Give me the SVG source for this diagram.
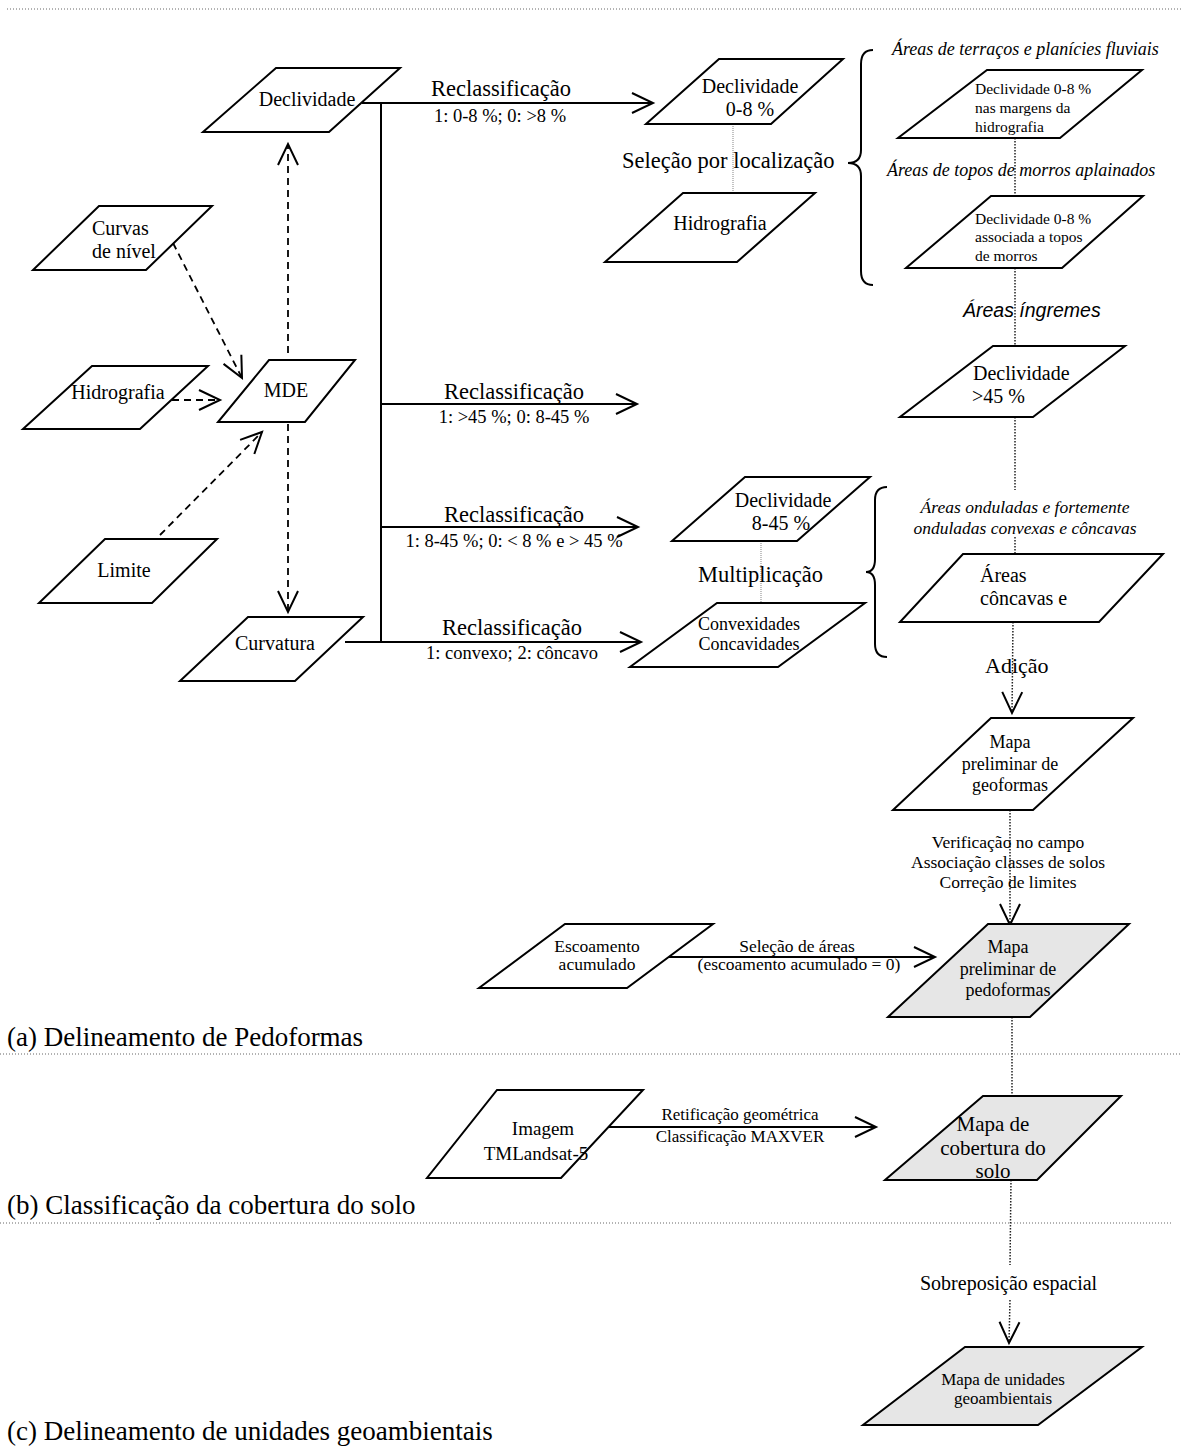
<svg xmlns="http://www.w3.org/2000/svg" width="1182" height="1454" viewBox="0 0 1182 1454">
<style>
.t{font-family:"Liberation Serif","Times New Roman",serif;fill:#000}
.it{font-style:italic}
.s{font-family:"Liberation Sans",Arial,sans-serif;font-style:italic;fill:#000}
.m{text-anchor:middle}
.node{fill:#fff;stroke:#000;stroke-width:2}
.gray{fill:#e6e6e6}
.sol{fill:none;stroke:#000;stroke-width:2}
.dash{fill:none;stroke:#000;stroke-width:1.8;stroke-dasharray:7 5}
.dot{fill:none;stroke:#222;stroke-width:1.5;stroke-dasharray:1.5 1.5}
.ldot{fill:none;stroke:#999;stroke-width:1.2;stroke-dasharray:1 1}
.sep{fill:none;stroke:#666;stroke-width:1;stroke-dasharray:1 2}
</style>
<defs>
<marker id="ah" markerUnits="userSpaceOnUse" markerWidth="26" markerHeight="26" viewBox="0 0 26 26" refX="23" refY="13" orient="auto">
<path d="M2,3 L23,13 L2,23" fill="none" stroke="#000" stroke-width="2" stroke-dasharray="none"/>
</marker>
</defs>

<g id="separators">
<line class="sep" x1="7" y1="9" x2="1182" y2="9"/>
<line class="sep" x1="0" y1="1054" x2="1182" y2="1054"/>
<line class="sep" x1="0" y1="1223" x2="1172" y2="1223"/>
</g>

<g id="connectors">
<line class="dash" x1="173" y1="243" x2="242" y2="378" marker-end="url(#ah)"/>
<line class="dash" x1="172" y1="400" x2="220" y2="400" marker-end="url(#ah)"/>
<line class="dash" x1="160" y1="535" x2="262" y2="432" marker-end="url(#ah)"/>
<line class="dash" x1="288" y1="353" x2="288" y2="144" marker-end="url(#ah)"/>
<line class="dash" x1="288" y1="424" x2="288" y2="612" marker-end="url(#ah)"/>
<line class="sol" x1="362" y1="103" x2="653" y2="103" marker-end="url(#ah)"/>
<line class="sol" x1="381" y1="103" x2="381" y2="642"/>
<line class="sol" x1="381" y1="404" x2="637" y2="404" marker-end="url(#ah)"/>
<line class="sol" x1="381" y1="527" x2="638" y2="527" marker-end="url(#ah)"/>
<line class="sol" x1="345" y1="642" x2="641" y2="642" marker-end="url(#ah)"/>
<line class="ldot" x1="733" y1="124" x2="733" y2="193"/>
<line class="ldot" x1="761" y1="541" x2="761" y2="603"/>
<path class="sol" d="M873,50 Q861,50 861,64 L861,150 Q861,163 848,163 Q861,163 861,176 L861,271 Q861,285 873,285"/>
<path class="sol" d="M887,487 Q875,487 875,500 L875,559 Q875,572 866,572 Q875,572 875,585 L875,644 Q875,657 887,657"/>
<line class="dot" x1="1015" y1="138" x2="1015" y2="196"/>
<line class="dot" x1="1015" y1="268" x2="1015" y2="346"/>
<line class="dot" x1="1015" y1="417" x2="1015" y2="490"/>
<line class="dot" x1="1015" y1="537" x2="1015" y2="554"/>
<line class="dot" x1="1013" y1="622" x2="1012" y2="713" marker-end="url(#ah)"/>
<line class="dot" x1="1010" y1="810" x2="1010" y2="925" marker-end="url(#ah)"/>
<line class="sol" x1="668" y1="957" x2="935" y2="957" marker-end="url(#ah)"/>
<line class="dot" x1="1012" y1="1017" x2="1012" y2="1096"/>
<line class="sol" x1="609" y1="1127" x2="876" y2="1127" marker-end="url(#ah)"/>
<line class="dot" x1="1011" y1="1180" x2="1010" y2="1265"/>
<line class="dot" x1="1010" y1="1300" x2="1009" y2="1343" marker-end="url(#ah)"/>
</g>

<g id="n-declividade"><polygon class="node" points="276,68 400,68 329,132 203,132"/><text class="t m" x="307" y="106" font-size="20">Declividade</text></g>
<g id="n-curvas"><polygon class="node" points="99,206 212,206 146,270 33,270"/><text class="t" x="92" y="235" font-size="20">Curvas</text><text class="t" x="92" y="258" font-size="20">de nível</text></g>
<g id="n-mde"><polygon class="node" points="269,360 355,360 305,422 218,422"/><text class="t m" x="286" y="397" font-size="20">MDE</text></g>
<g id="n-hidro1"><polygon class="node" points="92,366 208,366 140,429 23,429"/><text class="t m" x="118" y="399" font-size="20">Hidrografia</text></g>
<g id="n-limite"><polygon class="node" points="105,539 217,539 152,603 39,603"/><text class="t m" x="124" y="577" font-size="20">Limite</text></g>
<g id="n-curvatura"><polygon class="node" points="248,617 363,617 295,681 180,681"/><text class="t m" x="275" y="650" font-size="20">Curvatura</text></g>

<g id="labels-reclass">
<text class="t m" x="501" y="96" font-size="22.5">Reclassificação</text>
<text class="t m" x="500" y="122" font-size="18.5">1: 0-8 %; 0: &gt;8 %</text>
<text class="t m" x="514" y="399" font-size="22.5">Reclassificação</text>
<text class="t m" x="514" y="423" font-size="18.5">1: &gt;45 %; 0: 8-45 %</text>
<text class="t m" x="514" y="522" font-size="22.5">Reclassificação</text>
<text class="t m" x="514" y="547" font-size="18.5">1: 8-45 %; 0: &lt; 8 % e &gt; 45 %</text>
<text class="t m" x="512" y="635" font-size="22.5">Reclassificação</text>
<text class="t m" x="512" y="659" font-size="18.5">1: convexo; 2: côncavo</text>
</g>

<g id="n-decl08"><polygon class="node" points="719,59 843,59 771,124 646,124"/><text class="t m" x="750" y="93" font-size="20">Declividade</text><text class="t m" x="750" y="116" font-size="20">0-8 %</text></g>
<g id="n-hidro2"><polygon class="node" points="683,193 815,193 737,262 605,262"/><text class="t m" x="720" y="230" font-size="20">Hidrografia</text></g>
<text class="t" x="622" y="168" font-size="22.5">Seleção por localização</text>

<g id="n-decl845"><polygon class="node" points="745,477 870,477 797,541 672,541"/><text class="t m" x="783" y="507" font-size="20">Declividade</text><text class="t m" x="781" y="530" font-size="20">8-45 %</text></g>
<text class="t" x="698" y="582" font-size="22.5">Multiplicação</text>
<g id="n-convex"><polygon class="node" points="717,603 865,603 778,667 630,667"/><text class="t m" x="749" y="630" font-size="18">Convexidades</text><text class="t m" x="749" y="650" font-size="18">Concavidades</text></g>

<text class="t it" x="892" y="55" font-size="18">Áreas de terraços e planícies fluviais</text>
<g id="n-margens"><polygon class="node" points="987,70 1142,70 1060,138 898,138"/><text class="t" x="975" y="94" font-size="15.5">Declividade 0-8 %</text><text class="t" x="975" y="113" font-size="15.5">nas margens da</text><text class="t" x="975" y="132" font-size="15.5">hidrografia</text></g>
<text class="t it" x="887" y="176" font-size="18">Áreas de topos de morros aplainados</text>
<g id="n-topos"><polygon class="node" points="991,196 1143,196 1062,268 906,268"/><text class="t" x="975" y="224" font-size="15.5">Declividade 0-8 %</text><text class="t" x="975" y="242" font-size="15.5">associada a topos</text><text class="t" x="975" y="261" font-size="15.5">de morros</text></g>
<text class="s" x="963" y="317" font-size="19.5">Áreas íngremes</text>
<g id="n-decl45"><polygon class="node" points="993,346 1125,346 1033,417 900,417"/><text class="t" x="973" y="380" font-size="20">Declividade</text><text class="t" x="972" y="403" font-size="20">&gt;45 %</text></g>
<text class="t it m" x="1025" y="513" font-size="17.5">Áreas onduladas e fortemente</text>
<text class="t it m" x="1025" y="534" font-size="17.5">onduladas convexas e côncavas</text>
<g id="n-concavas"><polygon class="node" points="963,554 1163,554 1099,622 900,622"/><text class="t" x="980" y="582" font-size="20">Áreas</text><text class="t" x="980" y="605" font-size="20">côncavas e</text></g>
<text class="t" x="985" y="673" font-size="22">Adição</text>

<g id="n-geoformas"><polygon class="node" points="991,718 1133,718 1033,810 893,810"/><text class="t m" x="1010" y="748" font-size="18">Mapa</text><text class="t m" x="1010" y="770" font-size="18">preliminar de</text><text class="t m" x="1010" y="791" font-size="18">geoformas</text></g>
<text class="t m" x="1008" y="848" font-size="17.5">Verificação no campo</text>
<text class="t m" x="1008" y="868" font-size="17.5">Associação classes de solos</text>
<text class="t m" x="1008" y="888" font-size="17.5">Correção de limites</text>

<g id="n-escoamento"><polygon class="node" points="565,924 713,924 627,988 479,988"/><text class="t m" x="597" y="952" font-size="17.5">Escoamento</text><text class="t m" x="597" y="970" font-size="17.5">acumulado</text></g>
<text class="t m" x="797" y="952" font-size="17.5">Seleção de áreas</text>
<text class="t m" x="799" y="970" font-size="17.5">(escoamento acumulado = 0)</text>

<g id="n-pedoformas"><polygon class="node gray" points="988,924 1129,924 1030,1017 888,1017"/><text class="t m" x="1008" y="953" font-size="18">Mapa</text><text class="t m" x="1008" y="975" font-size="18">preliminar de</text><text class="t m" x="1008" y="996" font-size="18">pedoformas</text></g>

<text class="t" x="7" y="1046" font-size="27">(a) Delineamento de Pedoformas</text>

<g id="n-imagem"><polygon class="node" points="497,1090 643,1090 561,1178 427,1178"/><text class="t m" x="543" y="1135" font-size="19">Imagem</text><text class="t m" x="536" y="1160" font-size="19">TMLandsat-5</text></g>
<text class="t m" x="740" y="1120" font-size="17">Retificação geométrica</text>
<text class="t m" x="740" y="1142" font-size="17">Classificação MAXVER</text>
<g id="n-cobertura"><polygon class="node gray" points="983,1096 1121,1096 1037,1180 885,1180"/><text class="t m" x="993" y="1131" font-size="21">Mapa de</text><text class="t m" x="993" y="1155" font-size="21">cobertura do</text><text class="t m" x="993" y="1178" font-size="21">solo</text></g>

<text class="t" x="7" y="1214" font-size="27">(b) Classificação da cobertura do solo</text>

<text class="t" x="920" y="1290" font-size="20">Sobreposição espacial</text>
<g id="n-unidades"><polygon class="node gray" points="965,1347 1142,1347 1038,1425 863,1425"/><text class="t m" x="1003" y="1385" font-size="17">Mapa de unidades</text><text class="t m" x="1003" y="1404" font-size="17">geoambientais</text></g>

<text class="t" x="7" y="1440" font-size="27">(c) Delineamento de unidades geoambientais</text>
</svg>
